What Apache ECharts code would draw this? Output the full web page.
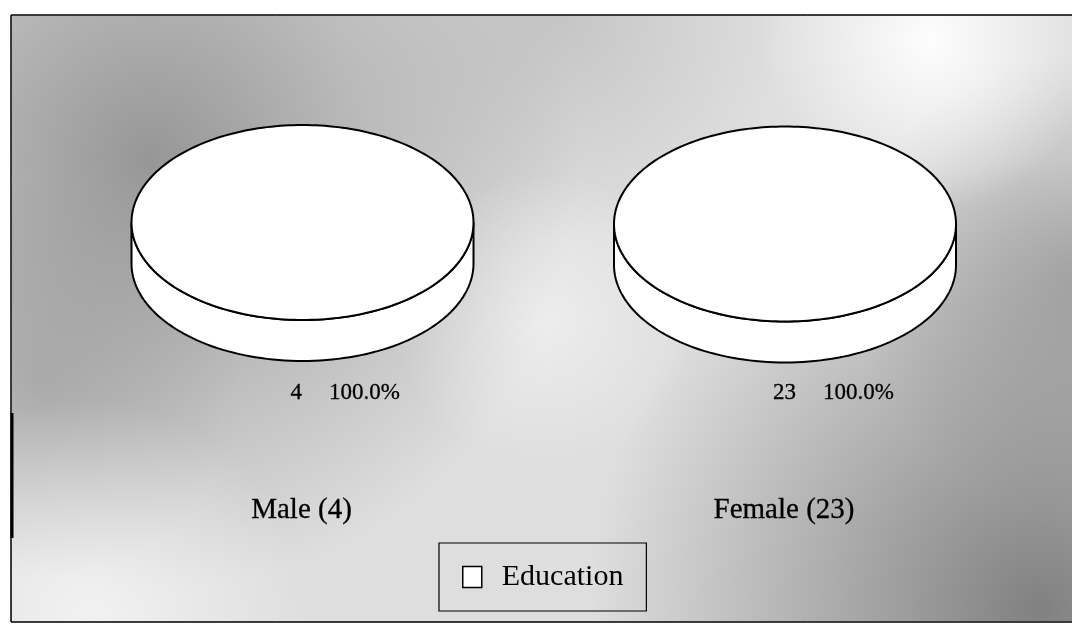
<!DOCTYPE html>
<html>
<head>
<meta charset="utf-8">
<script src="https://cdn.jsdelivr.net/npm/echarts@6/dist/echarts.min.js"></script>
<style>html,body{margin:0;padding:0;background:#fff}#c{width:1072px;height:624px}</style>
</head>
<body>
<div id="c"></div>
<script>
// ---- data ----
const groups = ['Male', 'Female'];
const categories = ['Education'];
const education = [4, 23];          // counts per group for 'Education'
const seriesValues = [education];   // one array per category

// ---- layout (positions / sizes) ----
const pieCenters = [[302.5, 222.5], [785, 224]];
const pieRx = 171, pieRy = 97.5, pieDepth = 41;
const labelY = 393, titleY = 510;
const FONT = '"Liberation Serif", "Times New Roman", serif';

const totals = groups.map((g, i) => seriesValues.reduce((s, arr) => s + arr[i], 0));

const mctx = document.createElement('canvas').getContext('2d');
function textW(t, size) { mctx.font = size + 'px ' + FONT; return mctx.measureText(t).width; }

function arcPts(cx, cy, a0, a1, n) {
  const pts = [];
  for (let k = 0; k <= n; k++) {
    const a = a0 + (a1 - a0) * k / n;
    pts.push([cx + pieRx * Math.cos(a), cy + pieRy * Math.sin(a)]);
  }
  return pts;
}

function makeRender(catIndex) {
  return function (params, api) {
    const gi = api.value(0);
    const val = api.value(1);
    const total = totals[gi];
    let before = 0;
    for (let c = 0; c < catIndex; c++) before += seriesValues[c][gi];
    const [cx, cy] = pieCenters[gi];
    const start = -Math.PI / 2 + before / total * Math.PI * 2;
    const end = start + val / total * Math.PI * 2;
    const full = Math.abs(end - start) >= Math.PI * 2 - 1e-6;
    const children = [];
    const stroke = { fill: '#ffffff', stroke: '#000000', lineWidth: 2 };

    // side band (front visible part: angles in [0, PI])
    let s0 = full ? 0 : Math.max(start, 0), s1 = full ? Math.PI : Math.min(end, Math.PI);
    if (s1 > s0) {
      const topArc = arcPts(cx, cy, s0, s1, 90);
      const botArc = arcPts(cx, cy + pieDepth, s1, s0, 90);
      children.push({ type: 'polygon', shape: { points: topArc.concat(botArc) }, style: stroke });
    }
    // top face
    let topPts = full ? arcPts(cx, cy, 0, Math.PI * 2, 240) : [[cx, cy]].concat(arcPts(cx, cy, start, end, 240));
    children.push({ type: 'polygon', shape: { points: topPts }, style: stroke });

    // data label: value  percent
    const vText = String(val);
    const pText = (val / total * 100).toFixed(1) + '%';
    const lx = cx - 12;
    const lab = { font: '23px ' + FONT, fill: '#000', stroke: '#000', lineWidth: 0.3, align: 'left', verticalAlign: 'middle' };
    children.push({ type: 'text', style: Object.assign({ x: lx, y: labelY, text: vText }, lab) });
    children.push({ type: 'text', style: Object.assign({ x: lx + textW(vText, 23) + 27, y: labelY, text: pText }, lab) });
    // group title
    if (catIndex === 0) {
      children.push({ type: 'text', style: { x: cx - 1, y: titleY, text: groups[gi] + ' (' + total + ')', font: '29px ' + FONT, fill: '#000', stroke: '#000', lineWidth: 0.3, align: 'center', verticalAlign: 'middle' } });
    }
    return { type: 'group', children };
  };
}

function radial(x, y, r, col, a) {
  return { type: 'rect', silent: true, z: -10, shape: { x: 12, y: 16, width: 1070, height: 605 },
    style: { fill: { type: 'radial', x, y, r, global: true, colorStops: [
      { offset: 0, color: 'rgba(' + col + ',' + a + ')' }, { offset: 1, color: 'rgba(' + col + ',0)' }] } } };
}

const chart = echarts.init(document.getElementById('c'), null, { renderer: 'canvas' });
chart.setOption({
  backgroundColor: '#ffffff',
  animation: false,
  graphic: { elements: [
    { type: 'rect', silent: true, z: -11, shape: { x: 11, y: 15, width: 1075, height: 607 }, style: { fill: '#dedede', stroke: '#000', lineWidth: 1 } },
    radial(150, 160, 430, '120,120,120', 0.7),
    radial(1040, 610, 450, '105,105,105', 0.8),
    radial(1080, 280, 230, '125,125,125', 0.5),
    radial(560, 20, 220, '140,140,140', 0.3),
    radial(40, 380, 200, '130,130,130', 0.35),
    radial(930, 40, 170, '255,255,255', 0.95),
    radial(90, 620, 220, '255,255,255', 0.6),
    radial(545, 320, 150, '255,255,255', 0.45),
    { type: 'rect', silent: true, z: -9, shape: { x: 11, y: 15, width: 1075, height: 607 }, style: { fill: 'none', stroke: '#000', lineWidth: 1 } },
    { type: 'line', silent: true, z: -9, shape: { x1: 12, y1: 413, x2: 12, y2: 538 }, style: { stroke: '#000', lineWidth: 3 } }
  ] },
  legend: {
    data: categories,
    left: 439, top: 543,
    padding: [17, 23, 17, 23],
    borderColor: '#000', borderWidth: 1.2,
    backgroundColor: 'transparent',
    icon: 'rect', itemWidth: 19, itemHeight: 21,
    itemStyle: { color: '#ffffff', borderColor: '#000', borderWidth: 1.5 },
    textStyle: { fontFamily: FONT, fontSize: 30, color: '#000', padding: [0, 0, 0, 15], lineHeight: 34 }
  },
  series: categories.map((cat, ci) => ({
    name: cat,
    type: 'custom',
    coordinateSystem: 'none',
    itemStyle: { color: '#ffffff', borderColor: '#000' },
    renderItem: makeRender(ci),
    data: groups.map((g, gi) => [gi, seriesValues[ci][gi]])
  }))
});
</script>
</body>
</html>
